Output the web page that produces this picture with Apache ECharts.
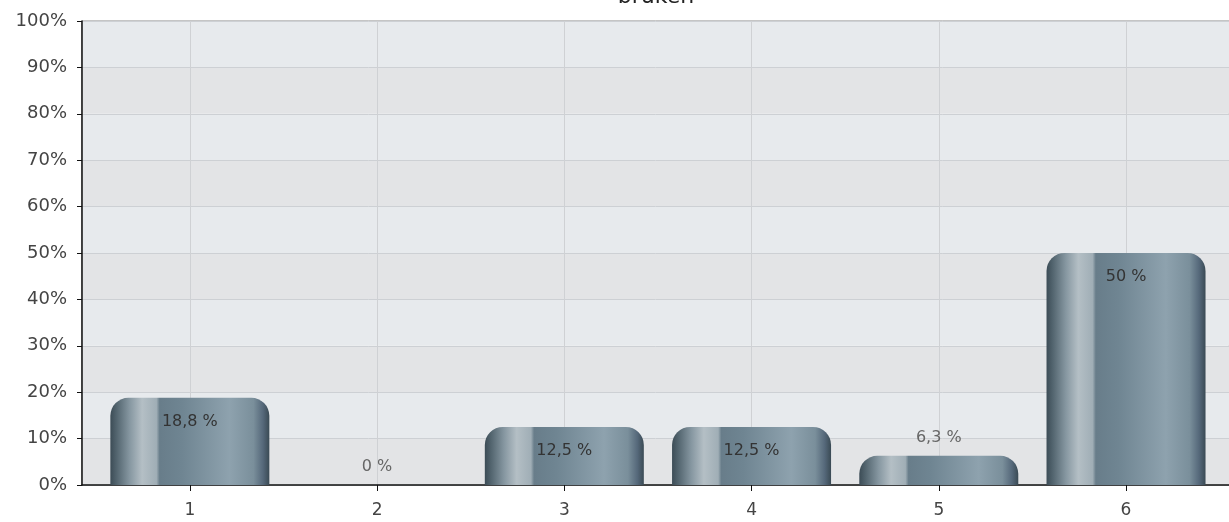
<!DOCTYPE html>
<html>
<head>
<meta charset="utf-8">
<script src="https://cdn.jsdelivr.net/npm/echarts@6/dist/echarts.min.js"></script>
<style>
  html, body { margin: 0; padding: 0; background: #fff; }
  #chart { width: 1229px; height: 522px; }
</style>
</head>
<body>
<div id="chart"></div>
<script>
// Answer categories and their share of responses (%)
const categories = [1, 2, 3, 4, 5, 6];
const shares = [18.8, 0, 12.5, 12.5, 6.3, 50];
const yTicks = [0, 10, 20, 30, 40, 50, 60, 70, 80, 90, 100];
const chartTitle = 'bruken';

const fmt = v => String(v).replace('.', ',') + ' %';
const FONT = 'DejaVu Sans';

// Cylinder-like shading across each bar
const barFill = new echarts.graphic.LinearGradient(0, 0, 1, 0, [
  { offset: 0.00, color: '#3c4c56' },
  { offset: 0.04, color: '#53656f' },
  { offset: 0.12, color: '#8596a0' },
  { offset: 0.20, color: '#b4bfc5' },
  { offset: 0.29, color: '#a0aeb6' },
  { offset: 0.31, color: '#687d8a' },
  { offset: 0.45, color: '#6f8592' },
  { offset: 0.75, color: '#8ea2ae' },
  { offset: 0.90, color: '#7a8f9b' },
  { offset: 0.96, color: '#55687a' },
  { offset: 1.00, color: '#3a4a54' }
]);

const barData = categories.map((c, i) => {
  const v = shares[i];
  const inside = v >= 10;
  return {
    value: [c, v],
    label: inside
      ? { position: 'insideTop', distance: 16, color: '#333' }
      : { position: 'top', distance: 10, color: '#666' }
  };
});

const chart = echarts.init(document.getElementById('chart'));
chart.setOption({
  animation: false,
  title: {
    text: chartTitle,
    left: 651,
    textAlign: 'center',
    top: -19,
    textStyle: { fontFamily: FONT, fontSize: 22, fontWeight: 'normal', color: '#222' }
  },
  grid: {
    left: 82, right: -2, top: 21, bottom: 37,
    show: true, borderColor: '#8a8a8a', borderWidth: 1, backgroundColor: 'transparent'
  },
  xAxis: {
    type: 'value',
    min: 0.424,
    max: 6.55,
    axisLine: { show: true, onZero: false, lineStyle: { color: '#111', width: 1.5 } },
    axisTick: { show: true, length: 6, lineStyle: { color: '#111' }, customValues: categories },
    axisLabel: {
      customValues: categories,
      margin: 17,
      fontFamily: FONT, fontSize: 17, color: '#444'
    },
    splitLine: { show: true, lineStyle: { color: '#cfd1d4', width: 1 } }
  },
  yAxis: {
    type: 'value',
    min: yTicks[0],
    max: yTicks[yTicks.length - 1],
    interval: 10,
    axisLine: { show: true, lineStyle: { color: '#111', width: 1.5 } },
    axisTick: { show: true, length: 5, lineStyle: { color: '#111' } },
    axisLabel: {
      margin: 15,
      formatter: v => v + '%',
      fontFamily: FONT, fontSize: 18, color: '#444'
    },
    splitLine: { show: true, lineStyle: { color: '#cdd0d4', width: 1 } },
    splitArea: { show: true, areaStyle: { color: ['#e3e4e6', '#e7eaed'] } }
  },
  series: [{
    type: 'bar',
    data: barData,
    barWidth: 159,
    itemStyle: { color: barFill, borderRadius: [18, 18, 0, 0] },
    label: {
      show: true,
      formatter: p => fmt(p.value[1]),
      fontFamily: FONT, fontSize: 16
    }
  }]
});
</script>
</body>
</html>
